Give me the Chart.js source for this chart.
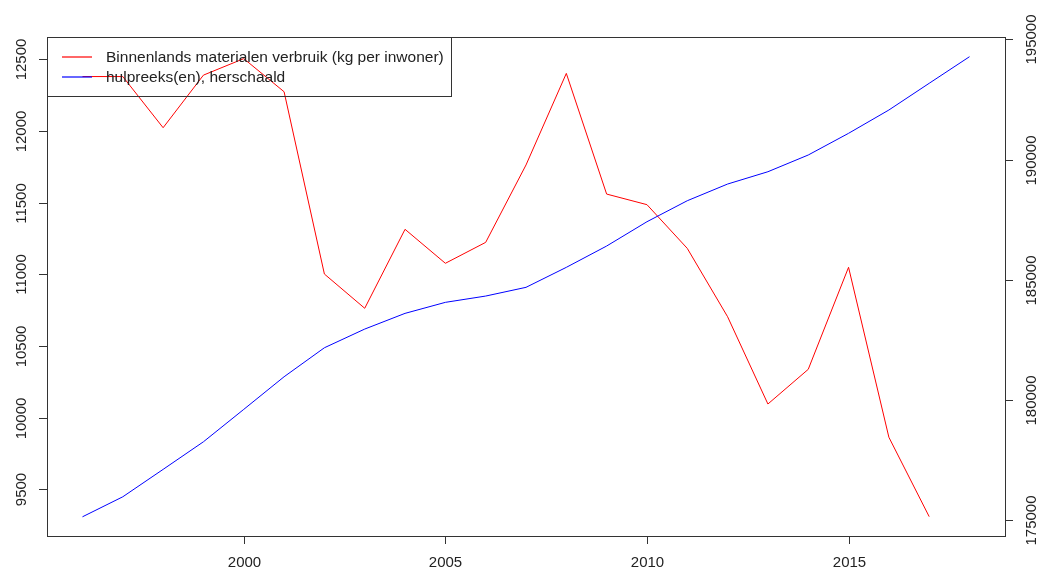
<!DOCTYPE html>
<html>
<head>
<meta charset="utf-8">
<script src="https://cdn.jsdelivr.net/npm/chart.js@4/dist/chart.umd.min.js"></script>
<style>
  html, body { margin: 0; padding: 0; background: #fff; }
  #wrap { width: 1047px; height: 574px; }
</style>
</head>
<body>
<div id="wrap"><canvas id="chart" width="1047" height="574"></canvas></div>
<script>
const years = [1996, 1997, 1998, 1999, 2000, 2001, 2002, 2003, 2004, 2005, 2006,
               2007, 2008, 2009, 2010, 2011, 2012, 2013, 2014, 2015, 2016, 2017, 2018];

// kg per inwoner, 1996-2017
const verbruik = [12380, 12380, 12023, 12390, 12505, 12274, 11002, 10763, 11314, 11077, 11223,
                  11763, 12402, 11560, 11486, 11181, 10704, 10095, 10337, 11049, 9863, 9309];

// hulpreeks op de rechteras, 1996-2018
const hulpreeks = [175133, 175966, 177107, 178256, 179604, 180962, 182169, 182947, 183601, 184059, 184321,
                   184684, 185516, 186403, 187415, 188289, 188984, 189496, 190192, 191095, 192065, 193177, 194284];

const seriesLabels = ['Binnenlands materialen verbruik (kg per inwoner)', 'hulpreeks(en), herschaald'];
const seriesColors = ['#ff0000', '#0000ff'];

const xTicks = [2000, 2005, 2010, 2015];
const leftTicks = [9500, 10000, 10500, 11000, 11500, 12000, 12500];
const rightTicks = [175000, 180000, 185000, 190000, 195000];

const FONT = '15px "Liberation Sans", Arial, sans-serif';
const LEGEND_FONT = '15.5px "Liberation Sans", Arial, sans-serif';
const AXIS_COLOR = '#333333';

// base-graphics style frame, ticks and rotated labels
const rAxes = {
    id: 'rAxes',
    afterDraw(chart) {
        const ctx = chart.ctx;
        const area = chart.chartArea;
        const sx = chart.scales.x;
        const sy = chart.scales.y;
        const sy2 = chart.scales.y2;
        const tick = 8;

        ctx.save();
        ctx.strokeStyle = AXIS_COLOR;
        ctx.lineWidth = 1;
        ctx.strokeRect(Math.round(area.left) + 0.5, Math.round(area.top) + 0.5,
                       Math.round(area.right - area.left), Math.round(area.bottom - area.top));

        ctx.fillStyle = '#222';
        ctx.font = FONT;

        // bottom
        ctx.textAlign = 'center';
        ctx.textBaseline = 'middle';
        xTicks.forEach(v => {
            const px = Math.round(sx.getPixelForValue(v)) + 0.5;
            ctx.beginPath();
            ctx.moveTo(px, area.bottom);
            ctx.lineTo(px, area.bottom + tick);
            ctx.stroke();
            ctx.fillText(String(v), px, area.bottom + 27);
        });

        // left
        leftTicks.forEach(v => {
            const py = Math.round(sy.getPixelForValue(v)) + 0.5;
            ctx.beginPath();
            ctx.moveTo(area.left, py);
            ctx.lineTo(area.left - tick, py);
            ctx.stroke();
            ctx.save();
            ctx.translate(area.left - 25, py);
            ctx.rotate(-Math.PI / 2);
            ctx.fillText(String(v), 0, 0);
            ctx.restore();
        });

        // right
        rightTicks.forEach(v => {
            const py = Math.round(sy2.getPixelForValue(v)) + 0.5;
            ctx.beginPath();
            ctx.moveTo(area.right, py);
            ctx.lineTo(area.right + tick, py);
            ctx.stroke();
            ctx.save();
            ctx.translate(area.right + 27, py);
            ctx.rotate(-Math.PI / 2);
            ctx.fillText(String(v), 0, 0);
            ctx.restore();
        });

        // legend, top-left, no fill
        const lx = area.left;
        const ly = area.top;
        const lw = 404;
        const lh = 59;
        ctx.strokeRect(Math.round(lx) + 0.5, Math.round(ly) + 0.5, lw, lh);
        ctx.font = LEGEND_FONT;
        ctx.textAlign = 'left';
        seriesLabels.forEach((label, i) => {
            const yy = Math.round(ly + 20 + i * 20);
            ctx.beginPath();
            ctx.strokeStyle = seriesColors[i];
            ctx.lineWidth = 1.2;
            ctx.moveTo(lx + 15, yy);
            ctx.lineTo(lx + 45, yy);
            ctx.stroke();
            ctx.fillText(label, lx + 59, yy + 1);
        });
        ctx.restore();
    }
};

const ctx = document.getElementById('chart').getContext('2d');
new Chart(ctx, {
    type: 'line',
    data: {
        datasets: [
            {
                label: seriesLabels[0],
                data: verbruik.map((v, i) => ({ x: years[i], y: v })),
                borderColor: seriesColors[0],
                borderWidth: 1,
                pointRadius: 0,
                tension: 0,
                yAxisID: 'y',
                order: 1
            },
            {
                label: seriesLabels[1],
                data: hulpreeks.map((v, i) => ({ x: years[i], y: v })),
                borderColor: seriesColors[1],
                borderWidth: 1,
                pointRadius: 0,
                tension: 0,
                yAxisID: 'y2',
                order: 0
            }
        ]
    },
    options: {
        responsive: false,
        animation: false,
        devicePixelRatio: 1,
        layout: {
            padding: { left: 47, top: 37, right: 42, bottom: 38 }
        },
        scales: {
            x: { type: 'linear', min: 1995.12, max: 2018.88, display: false },
            y: { type: 'linear', min: 9174, max: 12656, display: false },
            y2: { type: 'linear', position: 'right', min: 174334, max: 195104, display: false }
        },
        plugins: {
            legend: { display: false },
            tooltip: { enabled: false }
        }
    },
    plugins: [rAxes]
});
</script>
</body>
</html>
